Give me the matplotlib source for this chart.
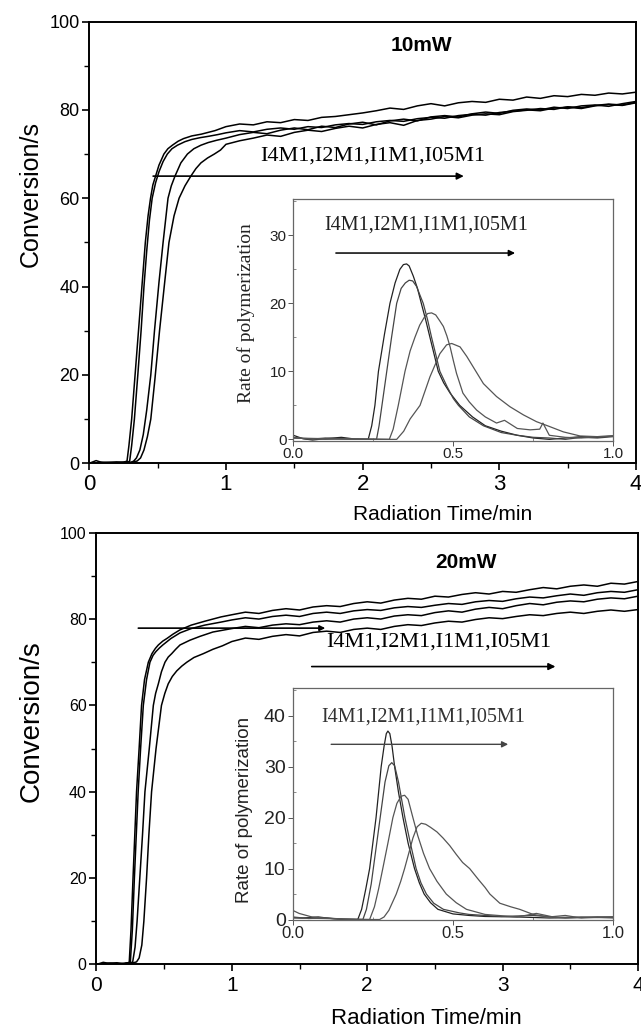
import matplotlib
matplotlib.use("Agg")
import matplotlib.pyplot as plt
from matplotlib.ticker import MultipleLocator

SANS = ["Liberation Sans", "DejaVu Sans"]
SERIF = ["Liberation Serif", "DejaVu Serif"]
plt.rcParams["font.family"] = SANS

# ---------------- data: 10 mW conversion curves ----------------
PLATEAU_T = [1.0, 1.1, 1.2, 1.3, 1.4, 1.5, 1.6, 1.7, 1.8, 1.9, 2.0, 2.1, 2.2, 2.3, 2.4, 2.5,
             2.6, 2.7, 2.8, 2.9, 3.0, 3.1, 3.2, 3.3, 3.4, 3.5, 3.6, 3.7, 3.8, 3.9, 4.0]

t10_i4m1 = [0, 0.05, 0.1, 0.15, 0.2, 0.25, 0.276, 0.29, 0.31, 0.335, 0.36, 0.385, 0.41, 0.43, 0.448,
            0.465, 0.485, 0.51, 0.546, 0.575, 0.608, 0.65, 0.69, 0.75, 0.82, 0.92]
v10_i4m1 = [0, 0.6, 0.1, 0.2, 0.3, 0.2, 0.5, 4, 10, 20, 30, 40, 50, 56, 60,
            63, 65, 67.5, 70, 71.2, 72, 72.9, 73.5, 74.1, 74.5, 75.3]
p10_i4m1 = [76.2, 76.8, 76.6, 77.3, 77.1, 77.8, 77.6, 78.3, 78.5, 78.9, 79.3, 79.8, 80.4, 80.1, 80.9, 81.4,
            80.9, 81.6, 81.9, 81.7, 82.4, 82.2, 82.9, 82.6, 83.2, 83.0, 83.5, 83.3, 83.8, 83.6, 84.0]

t10_i2m1 = [0, 0.1, 0.2, 0.295, 0.31, 0.33, 0.355, 0.379, 0.4, 0.42, 0.44, 0.46, 0.485, 0.51, 0.54,
            0.571, 0.605, 0.645, 0.7, 0.75, 0.81, 0.87, 0.94]
v10_i2m1 = [0, 0.2, 0.1, 0.4, 4, 10, 20, 30, 40, 48, 55, 60, 63.5, 66, 68.3,
            70, 71.2, 72, 72.8, 73.3, 73.7, 74.0, 74.4]
p10_i2m1 = [74.8, 75.3, 75.0, 75.6, 75.9, 75.6, 76.2, 76.0, 76.6, 76.9, 76.7, 77.3, 77.6, 77.4, 78.0, 78.3,
            78.1, 78.7, 79.0, 78.8, 79.4, 79.7, 80.0, 79.8, 80.4, 80.6, 80.3, 80.9, 81.2, 81.0, 81.6]

t10_i1m1 = [0, 0.1, 0.2, 0.3, 0.325, 0.345, 0.37, 0.395, 0.42, 0.45, 0.477, 0.51, 0.54, 0.576, 0.6,
            0.627, 0.67, 0.718, 0.765, 0.817, 0.87, 0.93]
v10_i1m1 = [0, 0.1, 0.2, 0.1, 0.5, 1.2, 3, 6.5, 12, 20, 30, 41, 50, 60, 62.8,
            65, 68, 70, 71.2, 72, 72.6, 73.1]
p10_i1m1 = [73.6, 74.4, 74.9, 74.6, 75.4, 75.9, 75.5, 76.3, 76.0, 76.8, 77.2, 76.6, 77.5, 77.9, 77.5, 78.4,
            78.7, 78.4, 79.1, 79.5, 79.2, 79.9, 80.2, 80.0, 80.6, 80.3, 80.9, 81.1, 80.8, 81.4, 81.9]

t10_i05m1 = [0, 0.1, 0.2, 0.3, 0.35, 0.375, 0.4, 0.425, 0.45, 0.48, 0.514, 0.55, 0.583, 0.62, 0.657,
             0.7, 0.743, 0.78, 0.817, 0.865, 0.915, 0.96]
v10_i05m1 = [0, 0.2, 0.1, 0.2, 0.5, 1.2, 3, 6, 10, 19, 30, 40.5, 50, 56, 60,
             62.8, 65, 66.7, 68, 69.1, 70, 70.9]
p10_i05m1 = [72.2, 73.0, 73.6, 74.3, 74.0, 74.9, 75.4, 75.1, 75.8, 76.3, 75.9, 76.7, 77.1, 76.5, 77.6, 77.9,
             78.5, 78.2, 78.8, 79.1, 78.9, 79.6, 79.9, 80.3, 80.1, 80.7, 80.5, 81.0, 81.3, 81.1, 81.7]

# ---------------- data: 20 mW conversion curves ----------------
t20_i4m1 = [0, 0.05, 0.1, 0.15, 0.2, 0.242, 0.255, 0.27, 0.283, 0.296, 0.315, 0.333, 0.355, 0.383,
            0.41, 0.435, 0.457, 0.49, 0.52, 0.565, 0.617, 0.7, 0.8, 0.92]
v20_i4m1 = [0, 0.5, 0.2, 0.4, 0.1, 0.5, 8, 20, 30, 40, 50, 60, 66, 70,
            72, 73.2, 74, 74.9, 75.5, 76.5, 77.5, 78.6, 79.5, 80.5]
p20_i4m1 = [81.0, 81.6, 81.3, 82.0, 82.4, 82.1, 82.8, 83.1, 82.9, 83.6, 84.0, 83.7, 84.4, 84.8, 84.6, 85.3,
            85.1, 85.7, 86.1, 85.8, 86.4, 86.2, 86.8, 87.3, 87.0, 87.6, 87.9, 87.6, 88.3, 88.1, 88.7]

t20_i2m1 = [0, 0.1, 0.2, 0.25, 0.265, 0.28, 0.294, 0.308, 0.326, 0.346, 0.37, 0.395, 0.418, 0.44,
            0.465, 0.49, 0.55, 0.617, 0.7, 0.8, 0.92]
v20_i2m1 = [0, 0.3, 0.1, 0.5, 8, 20, 30, 40, 50, 60, 66, 70, 71.6, 72.5,
            73.3, 74, 75.5, 76.8, 77.8, 78.6, 79.3]
p20_i2m1 = [79.8, 80.3, 80.0, 80.6, 80.9, 80.6, 81.3, 81.6, 81.3, 81.9, 82.2, 82.0, 82.6, 82.9, 82.7, 83.2,
            83.6, 83.4, 84.0, 84.3, 84.1, 84.7, 85.1, 84.9, 85.4, 85.8, 85.5, 86.1, 86.4, 86.2, 86.8]

t20_i1m1 = [0, 0.1, 0.2, 0.267, 0.285, 0.3, 0.32, 0.34, 0.358, 0.39, 0.42, 0.437, 0.457, 0.48, 0.506,
            0.53, 0.556, 0.585, 0.617, 0.69, 0.765, 0.86, 0.93]
v20_i1m1 = [0, 0.2, 0.3, 0.5, 4, 10, 20, 30, 40, 50, 60, 62.8, 65, 67.8, 70,
            71.2, 72, 73, 74, 75.1, 76, 77, 77.4]
p20_i1m1 = [77.8, 78.3, 78.0, 78.6, 78.9, 78.7, 79.3, 79.6, 79.3, 80.0, 80.3, 80.0, 80.7, 81.0, 80.8, 81.5,
            81.9, 81.6, 82.3, 82.7, 82.4, 83.1, 83.6, 83.3, 83.9, 84.2, 84.0, 84.6, 84.9, 84.7, 85.3]

t20_i05m1 = [0, 0.1, 0.2, 0.25, 0.296, 0.315, 0.335, 0.35, 0.37, 0.387, 0.407, 0.44, 0.48, 0.505, 0.53,
             0.56, 0.593, 0.63, 0.667, 0.72, 0.79, 0.86, 0.93]
v20_i05m1 = [0, 0.3, 0.1, 0.2, 0.6, 1.5, 4.5, 10, 20, 30, 40, 50, 60, 62.8, 65,
             66.7, 68, 69.1, 70, 71.1, 72, 73, 73.8]
p20_i05m1 = [74.8, 75.6, 75.3, 76.0, 76.4, 76.1, 76.9, 77.2, 76.9, 77.6, 77.9, 77.6, 78.3, 78.7, 78.5, 79.1,
             79.5, 79.3, 79.9, 80.3, 80.1, 80.6, 81.0, 80.8, 81.3, 81.6, 81.3, 81.8, 82.1, 81.8, 82.2]

# ---------------- data: inset rate curves, 10 mW ----------------
r10_t_i4m1 = [0, 0.03, 0.06, 0.1, 0.15, 0.2, 0.234, 0.245, 0.255, 0.266, 0.285, 0.302, 0.318, 0.333,
              0.344, 0.354, 0.362, 0.375, 0.388, 0.40, 0.414, 0.427, 0.44, 0.453, 0.47, 0.49, 0.52,
              0.56, 0.6, 0.65, 0.7, 0.75, 0.8, 0.85, 0.9, 0.95, 1.0]
r10_v_i4m1 = [0.6, 0.1, -0.1, 0.1, 0.3, 0.0, 0.0, 2, 5, 10, 15.5, 20, 23, 25,
              25.7, 25.8, 25.5, 24.0, 22.2, 20, 17.5, 15, 12.5, 10, 8.3, 6.8, 5,
              3.3, 2.0, 1.2, 0.6, 0.2, 0.0, 0.2, 0.4, 0.3, 0.5]
r10_t_i2m1 = [0, 0.05, 0.1, 0.15, 0.2, 0.26, 0.268, 0.28, 0.292, 0.307, 0.323, 0.337, 0.35, 0.362,
              0.373, 0.385, 0.395, 0.406, 0.42, 0.432, 0.445, 0.458, 0.48, 0.5, 0.516, 0.55, 0.594,
              0.65, 0.7, 0.75, 0.8, 0.85, 0.9, 0.95, 1.0]
r10_v_i2m1 = [0.3, 0.0, 0.2, 0.1, 0.0, 0.0, 2, 6, 10, 15, 20, 22.2, 23.0, 23.4,
              23.3, 22.5, 21.3, 20, 17.5, 15, 12.5, 10, 7.8, 6.0, 5, 3.3, 2.0,
              1.0, 0.6, 0.3, 0.2, 0.0, 0.3, 0.2, 0.4]
r10_t_i1m1 = [0, 0.1, 0.2, 0.3, 0.312, 0.328, 0.349, 0.365, 0.38, 0.395, 0.41, 0.42, 0.432, 0.445,
              0.458, 0.469, 0.48, 0.49, 0.5, 0.51, 0.53, 0.55, 0.573, 0.6, 0.635, 0.66, 0.7, 0.74,
              0.77, 0.78, 0.8, 0.85, 0.9, 0.95, 1.0]
r10_v_i1m1 = [0.2, 0.0, 0.1, 0.0, 1.5, 5, 10, 13, 15, 16.8, 18, 18.5, 18.6, 18.3,
              17.4, 16.6, 15.2, 13.6, 11.6, 9.7, 6.8, 5.5, 4.3, 3.3, 2.4, 2.8, 1.6, 1.4,
              1.5, 2.4, 0.6, 0.3, 0.2, 0.4, 0.5]
r10_t_i05m1 = [0, 0.1, 0.2, 0.3, 0.323, 0.345, 0.365, 0.396, 0.427, 0.458, 0.479, 0.495, 0.521, 0.542,
               0.568, 0.594, 0.635, 0.677, 0.719, 0.76, 0.80, 0.844, 0.896, 0.95, 1.0]
r10_v_i05m1 = [0.2, 0.1, 0.0, 0.0, 0.0, 1.2, 3, 5, 9.2, 12.6, 13.9, 14.1, 13.6, 12.2,
               10.2, 8.2, 6.3, 4.8, 3.6, 2.6, 1.9, 1.1, 0.5, 0.4, 0.5]

# ---------------- data: inset rate curves, 20 mW ----------------
r20_t_i4m1 = [0, 0.03, 0.08, 0.12, 0.16, 0.203, 0.215, 0.228, 0.24, 0.25, 0.26, 0.268, 0.276, 0.285,
              0.292, 0.297, 0.303, 0.31, 0.318, 0.33, 0.344, 0.36, 0.38, 0.395, 0.41, 0.43, 0.453,
              0.5, 0.55, 0.6, 0.7, 0.8, 0.9, 1.0]
r20_v_i4m1 = [0.4, 0.3, 0.5, 0.2, 0.0, 0.0, 2, 6, 10, 15, 20, 25, 30, 34,
              36.5, 37.0, 36.5, 34, 30, 25, 20, 15, 10, 7.2, 5, 3.3, 2.0,
              1.1, 0.8, 0.6, 0.5, 0.3, 0.4, 0.5]
r20_t_i2m1 = [0, 0.05, 0.1, 0.15, 0.219, 0.23, 0.245, 0.26, 0.275, 0.288, 0.3, 0.309, 0.318, 0.33,
              0.34, 0.35, 0.367, 0.385, 0.4, 0.417, 0.44, 0.47, 0.52, 0.55, 0.65, 0.75, 0.85, 0.95, 1.0]
r20_v_i2m1 = [0.5, 0.2, 0.3, 0.1, 0.0, 2, 7, 14, 21, 27, 30.2, 30.8, 30.2, 27,
              23.5, 20, 15, 10, 7.2, 5, 3.2, 2.0, 1.3, 1.0, 0.6, 0.8, 0.3, 0.5, 0.4]
r20_t_i1m1 = [0, 0.02, 0.06, 0.1, 0.16, 0.24, 0.255, 0.268, 0.281, 0.297, 0.3125, 0.325, 0.338, 0.349,
              0.36, 0.375, 0.39, 0.408, 0.427, 0.45, 0.479, 0.51, 0.542, 0.6, 0.7, 0.76, 0.82, 0.9, 1.0]
r20_v_i1m1 = [1.8, 1.2, 0.5, 0.3, 0.1, 0.0, 2.5, 6, 10, 15, 20, 22.8, 24.2, 24.4,
              23.6, 20, 16.5, 13, 10, 7.5, 5, 3.3, 2.0, 1.0, 0.5, 1.2, 0.4, 0.5, 0.3]
r20_t_i05m1 = [0, 0.1, 0.2, 0.271, 0.285, 0.3, 0.323, 0.337, 0.349, 0.362, 0.375, 0.388, 0.401, 0.415,
               0.43, 0.45, 0.469, 0.49, 0.51, 0.53, 0.552, 0.58, 0.6, 0.615, 0.646, 0.68, 0.708, 0.75,
               0.8, 0.85, 0.9, 1.0]
r20_v_i05m1 = [0.3, 0.2, 0.0, 0.0, 0.5, 1.8, 5, 7.5, 10, 13, 16, 18.2, 18.9, 18.7,
               18.1, 17.2, 16, 14.5, 12.8, 11.2, 10, 7.8, 6.3, 5, 3.2, 2.5, 2.0, 1.0,
               0.5, 0.8, 0.3, 0.5]

SERIES_LABEL = "I4M1,I2M1,I1M1,I05M1"
X_TICKS = [0, 1, 2, 3, 4]
Y_TICKS = [0, 20, 40, 60, 80, 100]
INSET_X_TICKS = [0.0, 0.5, 1.0]


def full(t_knee, v_knee, plateau):
    return list(t_knee) + PLATEAU_T, list(v_knee) + list(plateau)


fig = plt.figure(figsize=(6.41, 10.29), dpi=100)

ax1 = fig.add_axes([0.1393, 0.5498, 0.8529, 0.4293])
ax2 = fig.add_axes([0.1505, 0.0627, 0.8448, 0.4196])
in1 = fig.add_axes([0.4576, 0.5717, 0.4992, 0.2346])
in2 = fig.add_axes([0.4566, 0.1059, 0.5002, 0.2252])


def style_main(ax, xfs, yfs):
    ax.set_xlim(0, 4)
    ax.set_ylim(0, 100)
    ax.set_xticks(X_TICKS)
    ax.set_yticks(Y_TICKS)
    ax.xaxis.set_minor_locator(MultipleLocator(0.5))
    ax.yaxis.set_minor_locator(MultipleLocator(10))
    ax.tick_params(which="major", direction="out", length=5, width=1.2, top=False, right=False)
    ax.tick_params(which="minor", direction="out", length=3.5, width=1.0, top=False, right=False)
    ax.tick_params(axis="x", labelsize=xfs, pad=3)
    ax.tick_params(axis="y", labelsize=yfs, pad=2)
    for s in ax.spines.values():
        s.set_linewidth(1.4)


style_main(ax1, 16, 13)
style_main(ax2, 15, 11.5)

for tk, vk, pl in [(t10_i4m1, v10_i4m1, p10_i4m1), (t10_i2m1, v10_i2m1, p10_i2m1),
                   (t10_i1m1, v10_i1m1, p10_i1m1), (t10_i05m1, v10_i05m1, p10_i05m1)]:
    x, y = full(tk, vk, pl)
    ax1.plot(x, y, color="black", lw=1.1)

for tk, vk, pl in [(t20_i4m1, v20_i4m1, p20_i4m1), (t20_i2m1, v20_i2m1, p20_i2m1),
                   (t20_i1m1, v20_i1m1, p20_i1m1), (t20_i05m1, v20_i05m1, p20_i05m1)]:
    x, y = full(tk, vk, pl)
    ax2.plot(x, y, color="black", lw=1.1)

arrow_kw = dict(arrowstyle="-|>", lw=1.2, color="black", mutation_scale=10, shrinkA=0, shrinkB=0)

# top panel annotations
ax1.text(2.43, 94.6, "10mW", fontsize=15, fontweight="bold", ha="center", va="center")
ax1.text(1.249, 68.6, SERIES_LABEL, family=SERIF, fontsize=16, ha="left", va="baseline")
ax1.annotate("", xy=(2.74, 65.0), xytext=(0.467, 65.0), arrowprops=arrow_kw)

# bottom panel annotations
ax2.text(2.73, 93.0, "20mW", fontsize=15, fontweight="bold", ha="center", va="center")
ax2.annotate("", xy=(1.69, 77.9), xytext=(0.309, 77.9), arrowprops=dict(arrow_kw, mutation_scale=8))
ax2.text(1.70, 73.6, SERIES_LABEL, family=SERIF, fontsize=16, ha="left", va="baseline")
ax2.annotate("", xy=(3.39, 69.0), xytext=(1.59, 69.0), arrowprops=arrow_kw)

# labels
ax1.set_ylabel("Conversion/s", fontsize=18)
ax1.yaxis.set_label_coords(-0.085, 0.61)
ax1.set_xlabel("Radiation Time/min", fontsize=15)
ax1.xaxis.set_label_coords(0.646, -0.094)

ax2.set_ylabel("Conversion/s", fontsize=20)
ax2.yaxis.set_label_coords(-0.095, 0.564)
ax2.set_xlabel("Radiation Time/min", fontsize=16)
ax2.xaxis.set_label_coords(0.61, -0.1007)


def style_inset(ax, ylim, ymaj, ymin, xfs, yfs):
    ax.set_xlim(0, 1)
    ax.set_ylim(*ylim)
    ax.set_xticks(INSET_X_TICKS)
    ax.set_xticklabels(["0.0", "0.5", "1.0"])
    ax.yaxis.set_major_locator(MultipleLocator(ymaj))
    ax.yaxis.set_minor_locator(MultipleLocator(ymin))
    ax.xaxis.set_minor_locator(MultipleLocator(0.25))
    ax.tick_params(which="major", direction="out", length=3.5, width=0.7, color="#555555",
                   top=False, right=False)
    ax.tick_params(which="minor", direction="in", length=2.5, width=0.6, color="#777777",
                   top=False, right=False)
    ax.tick_params(axis="x", labelsize=xfs, pad=1, labelcolor="#222222")
    ax.tick_params(axis="y", labelsize=yfs, pad=1.5, labelcolor="#222222")
    for s in ax.spines.values():
        s.set_linewidth(0.9)
        s.set_color("#666666")


style_inset(in1, (-0.2, 35.3), 10, 5, 11, 11)
style_inset(in2, (-0.1, 45.4), 10, 5, 12, 14)

inset_colors = ["#222222", "#444444", "#555555", "#555555"]
for (tt, vv), c in zip([(r10_t_i4m1, r10_v_i4m1), (r10_t_i2m1, r10_v_i2m1),
                        (r10_t_i1m1, r10_v_i1m1), (r10_t_i05m1, r10_v_i05m1)], inset_colors):
    in1.plot(tt, vv, color=c, lw=0.9)
for (tt, vv), c in zip([(r20_t_i4m1, r20_v_i4m1), (r20_t_i2m1, r20_v_i2m1),
                        (r20_t_i1m1, r20_v_i1m1), (r20_t_i05m1, r20_v_i05m1)], inset_colors):
    in2.plot(tt, vv, color=c, lw=0.9)

in1.text(0.096, 30.8, SERIES_LABEL, family=SERIF, fontsize=14.5, ha="left", va="baseline", color="#222222")
in1.annotate("", xy=(0.693, 27.4), xytext=(0.133, 27.4), arrowprops=dict(arrow_kw, lw=1.1, mutation_scale=9))
in2.text(0.089, 38.8, SERIES_LABEL, family=SERIF, fontsize=14.5, ha="left", va="baseline", color="#333333")
in2.annotate("", xy=(0.672, 34.4), xytext=(0.12, 34.4),
             arrowprops=dict(arrow_kw, lw=1.0, color="#444444", mutation_scale=9))

in1.set_ylabel("Rate of polymerization", family=SERIF, fontsize=14, color="#222222")
in1.yaxis.set_label_coords(-0.12, 0.528)
in2.set_ylabel("Rate of polymerization", fontsize=13.5, color="#222222")
in2.yaxis.set_label_coords(-0.125, 0.475)

fig.savefig("out.png", dpi=100)
